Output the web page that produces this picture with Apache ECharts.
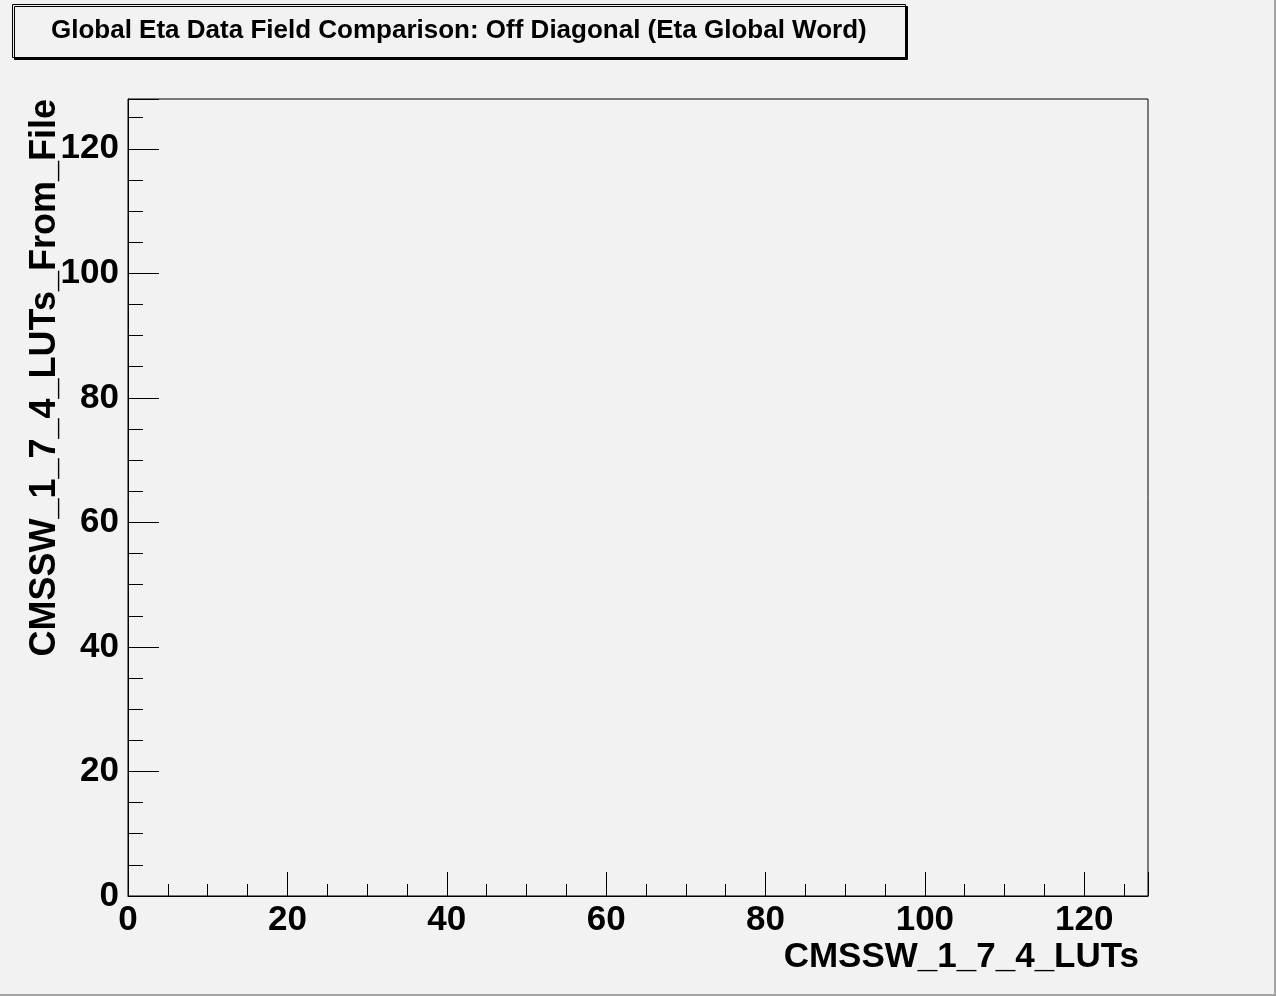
<!DOCTYPE html>
<html>
<head>
<meta charset="utf-8">
<script src="https://cdn.jsdelivr.net/npm/echarts@6/dist/echarts.min.js"></script>
<style>
  html, body { margin: 0; padding: 0; background: #f2f2f2; }
  #frame { position: relative; width: 1276px; height: 996px; box-sizing: border-box;
           border-right: 2px solid #a4a4a4; border-bottom: 2px solid #a4a4a4; background: #f2f2f2; }
  #chart { position: absolute; left: 0; top: 0; width: 1276px; height: 996px; }
</style>
</head>
<body>
<div id="frame"><div id="chart"></div></div>
<script>
// ---- data ----
const chartTitle = 'Global Eta Data Field Comparison: Off Diagonal (Eta Global Word)';
const xTitle = 'CMSSW_1_7_4_LUTs';
const yTitle = 'CMSSW_1_7_4_LUTs_From_File';
const xRange = [0, 128];
const yRange = [0, 128];
const majorStep = 20;
const minorStep = 5;
// the off-diagonal histogram is empty: no filled cells
const offDiagonalCells = [];   // [x, y, count]

const font = 'Liberation Sans, Arial, Helvetica, sans-serif';
const chart = echarts.init(document.getElementById('chart'), null, { renderer: 'canvas' });

const gridPos = { left: 128, right: 128, top: 99, bottom: 100 };

chart.setOption({
  backgroundColor: 'transparent',
  animation: false,
  title: {
    text: chartTitle,
    left: 12, top: 4,
    padding: [14, 39, 14, 39],
    borderColor: '#000', borderWidth: 1,
    backgroundColor: '#f2f2f2',
    shadowColor: '#000', shadowBlur: 0, shadowOffsetX: 2, shadowOffsetY: 2,
    textStyle: { fontFamily: font, fontWeight: 'bold', fontSize: 26, color: '#000' }
  },
  grid: [
    Object.assign({ show: true, borderColor: '#000', borderWidth: 1, backgroundColor: 'transparent' }, gridPos),
    Object.assign({ show: false }, gridPos)
  ],
  xAxis: [
    { type: 'value', gridIndex: 0, min: xRange[0], max: xRange[1], interval: majorStep,
      axisLine: { show: true, lineStyle: { color: '#000', width: 1 } },
      axisTick: { show: true, inside: true, length: 24, lineStyle: { color: '#000', width: 1 } },
      axisLabel: { show: true, margin: 7, color: '#000', fontFamily: font, fontWeight: 'bold', fontSize: 35,
                   formatter: v => (v % majorStep === 0 ? String(v) : '') },
      splitLine: { show: false } },
    { type: 'value', gridIndex: 1, min: xRange[0], max: xRange[1], interval: minorStep,
      axisLine: { show: false },
      axisTick: { show: true, inside: true, length: 12, lineStyle: { color: '#000', width: 1 } },
      axisLabel: { show: false }, splitLine: { show: false } }
  ],
  yAxis: [
    { type: 'value', gridIndex: 0, min: yRange[0], max: yRange[1], interval: majorStep,
      axisLine: { show: true, lineStyle: { color: '#000', width: 1 } },
      axisTick: { show: true, inside: true, length: 31, lineStyle: { color: '#000', width: 1 } },
      axisLabel: { show: true, margin: 9, color: '#000', fontFamily: font, fontWeight: 'bold', fontSize: 35,
                   padding: [10, 0, 0, 0],
                   formatter: v => (v % majorStep === 0 ? String(v) : '') },
      splitLine: { show: false } },
    { type: 'value', gridIndex: 1, min: yRange[0], max: yRange[1], interval: minorStep,
      axisLine: { show: false },
      axisTick: { show: true, inside: true, length: 15, lineStyle: { color: '#000', width: 1 } },
      axisLabel: { show: false }, splitLine: { show: false } }
  ],
  series: [
    { type: 'scatter', xAxisIndex: 0, yAxisIndex: 0, data: offDiagonalCells, symbolSize: 4 },
    { type: 'scatter', xAxisIndex: 1, yAxisIndex: 1, data: [], symbolSize: 0 }
  ],
  graphic: [
    { type: 'text', right: 1276 - 1139, top: 940,
      style: { text: xTitle, fill: '#000', font: 'bold 35px ' + font } },
    { type: 'text', x: 45, y: 99, rotation: Math.PI / 2,
      style: { text: yTitle, fill: '#000', font: 'bold 36px ' + font, align: 'right', verticalAlign: 'middle' } }
  ]
});
</script>
</body>
</html>
